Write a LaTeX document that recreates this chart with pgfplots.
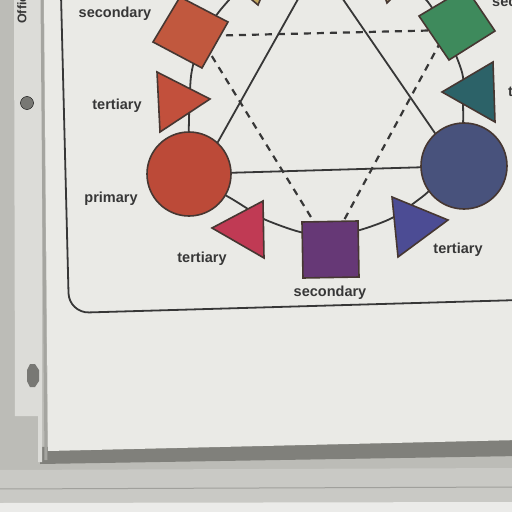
\documentclass[border=0pt]{standalone}
\usepackage{pgfplots}
\pgfplotsset{compat=1.18}
\usepackage{fontspec}
\setmainfont{Liberation Sans}
\definecolor{floor}{RGB}{188,188,183}
\definecolor{band}{RGB}{128,128,123}
\definecolor{strip}{RGB}{188,188,183}
\definecolor{plastic}{RGB}{220,220,216}
\definecolor{edge}{RGB}{165,165,160}
\definecolor{card}{RGB}{234,234,230}
\definecolor{hole}{RGB}{120,120,116}
\definecolor{ink}{RGB}{55,55,55}
\definecolor{outl}{RGB}{70,55,50}
\definecolor{orsq}{RGB}{193,88,62}
\definecolor{ortri}{RGB}{194,80,60}
\definecolor{redc}{RGB}{188,74,56}
\definecolor{pinkt}{RGB}{192,58,84}
\definecolor{purp}{RGB}{102,56,118}
\definecolor{bluet}{RGB}{76,76,148}
\definecolor{navy}{RGB}{72,82,124}
\definecolor{tealc}{RGB}{44,98,104}
\definecolor{greenc}{RGB}{62,138,92}
\definecolor{yell}{RGB}{196,168,96}
\begin{document}
\begin{tikzpicture}
\begin{axis}[width=512bp,height=512bp,scale only axis,
  xmin=0,xmax=512,ymin=0,ymax=512,y dir=reverse,hide axis,clip=true]
% backgrounds
\addplot[fill=floor,draw=none] coordinates {(-5,-5) (520,-5) (520,520) (-5,520)} -- cycle;
\addplot[fill=floor!80!white,draw=none] coordinates {(-5,470) (520,468) (520,520) (-5,520)} -- cycle;
\addplot[fill=band,draw=none] coordinates {(40,447) (520,438) (520,456) (40,464)} -- cycle;
\addplot[draw=floor!85!black,line width=1bp] coordinates {(-5,489) (520,487)};
\addplot[fill=white!70!floor,draw=none] coordinates {(0,503) (520,502) (520,520) (0,520)} -- cycle;
\addplot[fill=plastic,draw=none] coordinates {(14,-5) (42,-5) (42,462) (38,462) (38,416) (15,416)} -- cycle;
\addplot[fill=card,draw=none] coordinates {(44,-5) (520,-5) (520,440) (48,451)} -- cycle;
\addplot[draw=edge,line width=3bp] coordinates {(42,-5) (46,460)};
\addplot[only marks,mark=*,mark size=6.5bp,mark options={fill=hole,draw=none}] coordinates {(27,103)};
\addplot[fill=hole,draw=none] coordinates {(27,370) (30,364) (35,364) (39,370) (39,381) (35,387) (30,387) (27,381)} -- cycle;
% inner border
\addplot[draw=ink,line width=1.8bp,rounded corners=20bp] coordinates {(61,-5) (69,313) (520,300)};
% wheel arc
\addplot[draw=ink,line width=1.8bp,smooth] coordinates {(240,-12) (218,13) (200,42) (192,70) (190,90) (189,120) (189,150) (195,185) (215,190) (232,199) (248,209) (266,220) (300,232) (330,236) (360,230) (392,218) (418,200) (430,190) (460,160) (463,125) (463,100) (463,77) (457,58) (445,30) (428,2) (412,-12)};
% solid triangle
\addplot[draw=ink,line width=1.8bp] coordinates {(189,174) (465,166)};
\addplot[draw=ink,line width=1.8bp] coordinates {(302,-8) (205,165)};
\addplot[draw=ink,line width=1.8bp] coordinates {(338,-8) (450,155)};
% dashed triangles
\addplot[draw=ink,line width=2.2bp,dash pattern=on 7bp off 6bp] coordinates {(200,36) (450,30)};
\addplot[draw=ink,line width=2.2bp,dash pattern=on 7bp off 6bp] coordinates {(205,45) (322,235)};
\addplot[draw=ink,line width=2.2bp,dash pattern=on 7bp off 6bp] coordinates {(447,30) (336,235)};
% squares
\addplot[fill=orsq,draw=outl,line width=1.6bp] coordinates {(180,-3) (228,22) (202,68) (153,42)} -- cycle;
\addplot[fill=greenc,draw=outl,line width=1.6bp] coordinates {(419,16) (466,-12) (495,31) (449,60)} -- cycle;
\addplot[fill=purp,draw=outl,line width=1.6bp] coordinates {(302,222) (358,221) (359,277) (303,278)} -- cycle;
% triangles
\addplot[fill=ortri,draw=outl,line width=1.6bp] coordinates {(157,72) (210,99) (160,132)} -- cycle;
\addplot[fill=pinkt,draw=outl,line width=1.6bp] coordinates {(212,228) (263,201) (264,258)} -- cycle;
\addplot[fill=bluet,draw=outl,line width=1.6bp] coordinates {(392,197) (448,220) (398,257)} -- cycle;
\addplot[fill=tealc,draw=outl,line width=1.6bp] coordinates {(442,92) (493,62) (495,122)} -- cycle;
\addplot[fill=yell,draw=outl,line width=1.6bp] coordinates {(238,-12) (265,-12) (258,5)} -- cycle;
\addplot[fill=yell!60!gray,draw=outl,line width=1.6bp] coordinates {(382,-12) (402,-12) (387,3)} -- cycle;
% circles
\addplot[only marks,mark=*,mark size=42bp,mark options={fill=redc,draw=outl,line width=1.6bp}] coordinates {(189,174)};
\addplot[only marks,mark=*,mark size=43bp,mark options={fill=navy,draw=outl,line width=1.6bp}] coordinates {(464,166)};
% labels
\node[font=\fontsize{14.5bp}{16bp}\selectfont\bfseries,text=ink,inner sep=0pt] at (axis cs:115,14) {secondary};
\node[font=\fontsize{14.5bp}{16bp}\selectfont\bfseries,text=ink,inner sep=0pt] at (axis cs:117,106) {tertiary};
\node[font=\fontsize{14.5bp}{16bp}\selectfont\bfseries,text=ink,inner sep=0pt] at (axis cs:111,199) {primary};
\node[font=\fontsize{14.5bp}{16bp}\selectfont\bfseries,text=ink,inner sep=0pt] at (axis cs:202,259) {tertiary};
\node[font=\fontsize{14.5bp}{16bp}\selectfont\bfseries,text=ink,inner sep=0pt] at (axis cs:330,293) {secondary};
\node[font=\fontsize{14.5bp}{16bp}\selectfont\bfseries,text=ink,inner sep=0pt] at (axis cs:458,250) {tertiary};
\node[font=\fontsize{14.5bp}{16bp}\selectfont\bfseries,text=ink,inner sep=0pt,anchor=west] at (axis cs:492,3) {secondary};
\node[font=\fontsize{14.5bp}{16bp}\selectfont\bfseries,text=ink,inner sep=0pt,anchor=west] at (axis cs:508,93) {tertiary};
\node[font=\fontsize{12.5bp}{14bp}\selectfont\bfseries,text=ink,inner sep=0pt,rotate=90,anchor=west] at (axis cs:22,24) {Office};
\end{axis}
\end{tikzpicture}
\end{document}
